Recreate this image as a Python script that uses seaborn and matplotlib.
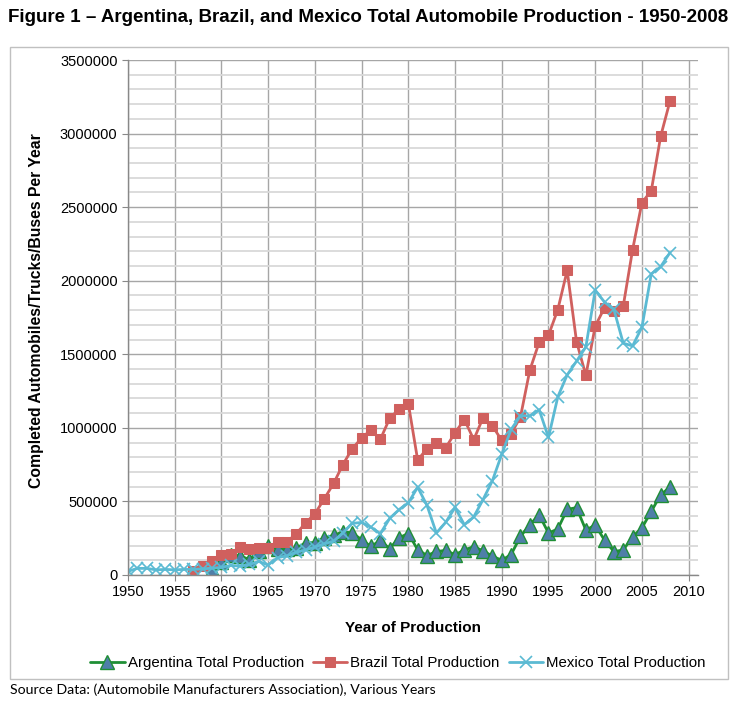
import pandas as pd
import seaborn as sns
import matplotlib.pyplot as plt
import matplotlib.ticker as tkr
from matplotlib.patches import Rectangle

# data
arg_years = list(range(1959, 2009))
argentina = [33000, 89000, 136000, 130000, 105000, 166000, 195000, 179000, 175000, 181000,
             219000, 220000, 253000, 269000, 294000, 286000, 240000, 194000, 235000, 179000,
             253000, 282000, 172000, 132000, 160000, 167000, 138000, 170000, 193000, 164000,
             128000, 100000, 139000, 262000, 342000, 409000, 285000, 313000, 446000, 458000,
             305000, 340000, 236000, 159000, 170000, 260000, 320000, 432000, 545000, 597000]

bra_years = list(range(1957, 2009))
brazil = [30500, 61000, 96000, 133000, 145600, 191000, 174000, 183700, 185200, 224600,
          225500, 279700, 353700, 416100, 517000, 622200, 750400, 859000, 930200, 986600,
          921200, 1064000, 1128000, 1165200, 780900, 859300, 896500, 864700, 966700, 1056300,
          920100, 1068800, 1013300, 914500, 960200, 1073900, 1391400, 1581400, 1629000, 1804300,
          2069700, 1586300, 1356700, 1691200, 1817100, 1791500, 1827800, 2210100, 2530800, 2611000,
          2980100, 3220500]

mex_years = list(range(1950, 2009))
mexico = [25000, 45000, 45000, 35000, 38000, 35000, 38000, 38000, 42000, 46000,
          52000, 65000, 60000, 72000, 92000, 68000, 118000, 130000, 155000, 170000,
          190000, 212000, 230000, 286000, 351000, 357000, 325000, 281000, 384000, 444000,
          490000, 597000, 473000, 285000, 358000, 459000, 341000, 395000, 513000, 641000,
          821000, 989000, 1083000, 1081000, 1123000, 935000, 1211000, 1360000, 1453000, 1550000,
          1936000, 1854000, 1805000, 1575000, 1557000, 1684000, 2046000, 2095000, 2191000]

x_ticks = list(range(1950, 2011, 5))
y_ticks = list(range(0, 3500001, 500000))

arg_df = pd.DataFrame({"year": arg_years, "units": argentina})
bra_df = pd.DataFrame({"year": bra_years, "units": brazil})
mex_df = pd.DataFrame({"year": mex_years, "units": mexico})

sns.set_style("white")
plt.rcParams['font.family'] = ['Liberation Sans', 'DejaVu Sans']
plt.rcParams['text.color'] = 'black'
plt.rcParams['xtick.labelcolor'] = 'black'
plt.rcParams['ytick.labelcolor'] = 'black'

fig = plt.figure(figsize=(7.38, 7.06), dpi=100)
ax = fig.add_axes([128 / 738, 1 - 575 / 706, 570 / 738, 515 / 706])

# grid first so the lines sit on top
ax.set_axisbelow(True)
ax.yaxis.set_minor_locator(tkr.MultipleLocator(100000))
ax.grid(which='minor', axis='y', color='#d9d9d9', lw=1.3)
ax.grid(which='major', axis='y', color='#a6a6a6', lw=1.0)
ax.grid(which='major', axis='x', color='#a6a6a6', lw=1.0)

# plot the three series
sns.lineplot(x="year", y="units", data=arg_df, ax=ax, color='#1f8f35', lw=2.0,
             marker='^', markersize=9.5, markerfacecolor='#4f7fa8', markeredgecolor='#1f8f35',
             markeredgewidth=1.0, label='Argentina Total Production')
sns.lineplot(x="year", y="units", data=bra_df, ax=ax, color='#d0605e', lw=2.0,
             marker='s', markersize=7, markerfacecolor='#d0605e', markeredgecolor='#d0605e',
             label='Brazil Total Production')
sns.lineplot(x="year", y="units", data=mex_df, ax=ax, color='#5bbad3', lw=2.0,
             marker='x', markersize=8, markeredgewidth=1.2, markeredgecolor='#5bbad3',
             label='Mexico Total Production')

ax.set_xlim(1950, 2011)
ax.set_ylim(0, 3500000)
ax.set_xticks(x_ticks)
ax.set_yticks(y_ticks)
ax.yaxis.set_major_formatter(tkr.FuncFormatter(lambda v, p: "{:d}".format(int(v))))
ax.tick_params(axis='both', which='major', labelsize=10.5, length=4, color='#888888',
               labelcolor='black', direction='out', left=True, bottom=True)
ax.tick_params(axis='y', which='minor', length=0)
ax.set_xlabel('')
ax.set_ylabel('')

for side in ['top', 'right']:
    ax.spines[side].set_visible(False)
for side in ['left', 'bottom']:
    ax.spines[side].set_color('#888888')
    ax.spines[side].set_linewidth(1.0)

# legend below the axis title
handles, labels = ax.get_legend_handles_labels()
ax.get_legend().remove()
fig.legend(handles, labels, loc='center', bbox_to_anchor=(398 / 738, 1 - 663 / 706),
           ncol=3, frameon=False, fontsize=10.8, handlelength=2.3, handletextpad=0.2,
           columnspacing=0.6, labelcolor='black')

# texts
fig.text(368 / 738, 1 - 18 / 706,
         'Figure 1 \u2013 Argentina, Brazil, and Mexico Total Automobile Production - 1950-2008',
         ha='center', va='center', fontsize=13.5, fontweight='bold')
fig.text(37 / 738, 1 - 311 / 706, 'Completed Automobiles/Trucks/Buses Per Year',
         ha='center', va='center', rotation=90, fontsize=11.3, fontweight='bold')
fig.text(413 / 738, 1 - 628 / 706, 'Year of Production',
         ha='center', va='center', fontsize=11, fontweight='bold')
fig.text(10 / 738, 1 - 690 / 706,
         'Source Data: (Automobile Manufacturers Association), Various Years',
         ha='left', va='center', fontsize=10.2, family=['Lato', 'DejaVu Sans'])

# light border round the chart area
fig.patches.append(Rectangle((10 / 738, 1 - 679 / 706), 718 / 738, 632 / 706,
                             transform=fig.transFigure, fill=False,
                             edgecolor='#c0c0c0', lw=1.0))

plt.savefig('out.png', dpi=100)
